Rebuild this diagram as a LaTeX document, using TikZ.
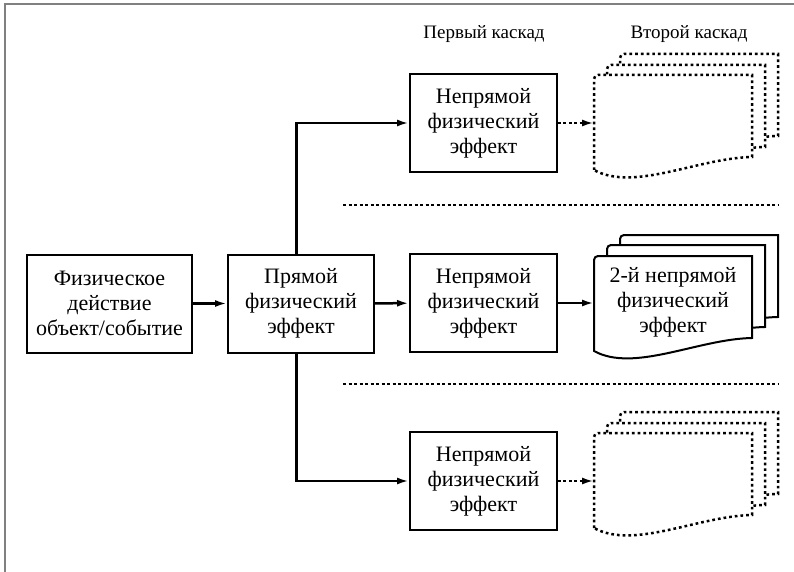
\documentclass[tikz,border=0pt]{standalone}
\usepackage{fontspec}
\setmainfont{Liberation Serif}
\usetikzlibrary{arrows.meta,calc}
\tikzset{
  docpic/.pic={
    \draw[pic actions, fill=white] (0,95) [rounded corners=4pt] -- (0,0) [sharp corners] -- (158,0) -- (158,82)
      .. controls (104,83) and (40,117) .. (0,95) -- cycle;
  }
}
\begin{document}
\begin{tikzpicture}[x=1pt,y=-1pt,
  box/.style={draw,line width=2pt,minimum height=98pt,align=center,
    font=\fontsize{22}{25}\selectfont,inner sep=0pt},
  conn/.style={line width=2.5pt,-{Latex[length=12pt,width=7pt]}},
  dotconn/.style={conn,dash pattern=on 2.7pt off 2.7pt},
  sepline/.style={line width=2.2pt,dash pattern=on 3pt off 2.5pt},
  soliddoc/.style={line width=2pt},
  dotdoc/.style={line width=2.5pt,dash pattern=on 2.7pt off 3pt},
  head/.style={font=\fontsize{19}{22}\selectfont}]
\useasboundingbox (0,0) rectangle (794,572);
\fill[white] (0,0) rectangle (794,572);
\draw[black!50,line width=2pt] (4.5,572) -- (4.5,4.5) -- (794,4.5);

% headings
\node[head] (h1) at (484,34) {Первый каскад};
\node[head] (h2) at (689,34) {Второй каскад};

% main boxes
\node[box,minimum width=165pt] (a) at (109.5,303.5) {Физическое\\действие\\объект/событие};
\node[box,minimum width=146pt] (b) at (301,303.5) {Прямой\\физический\\эффект};

\node[box,minimum width=147pt] (t) at (483.5,123) {Непрямой\\физический\\эффект};
\node[box,minimum width=147pt] (m) at (483.5,303) {Непрямой\\физический\\эффект};
\node[box,minimum width=147pt] (u) at (483.5,481) {Непрямой\\физический\\эффект};

% documents, top row (dotted)
\pic[dotdoc] at (620,54) {docpic};
\pic[dotdoc] at (607,65) {docpic};
\pic[dotdoc] at (594,75) {docpic};
% middle row (solid)
\pic[soliddoc] at (620,235) {docpic};
\pic[soliddoc] at (607,245) {docpic};
\pic[soliddoc] at (594,256) {docpic};
\node[font=\fontsize{22}{25}\selectfont,align=center] (d2) at (673,302) {2-й непрямой\\физический\\эффект};
% bottom row (dotted)
\pic[dotdoc] at (620,412) {docpic};
\pic[dotdoc] at (607,423) {docpic};
\pic[dotdoc] at (594,433) {docpic};

\coordinate (dt) at (594,123);
\coordinate (dm) at (594,303);
\coordinate (du) at (594,481);

% separators
\coordinate (s1a) at (343,205); \coordinate (s1b) at (779,205);
\coordinate (s2a) at (343,384); \coordinate (s2b) at (779,384);
\draw[sepline] (s1a) -- (s1b);
\draw[sepline] (s2a) -- (s2b);

% connectors
\draw[conn] (a) -- (b);
\draw[conn] ($(b.north)+(-4.5,0)$) |- (t.west);
\draw[conn] (b) -- (m);
\draw[conn] ($(b.south)+(-4.5,0)$) |- (u.west);
\draw[dotconn] (t.east) -- (dt);
\draw[conn] (m.east) -- (dm);
\draw[dotconn] (u.east) -- (du);
\end{tikzpicture}
\end{document}
